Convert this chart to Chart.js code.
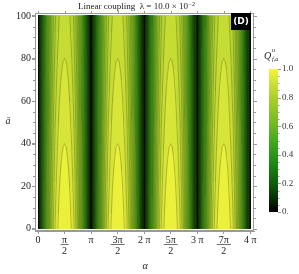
<!DOCTYPE html>
<html>
<head>
<meta charset="utf-8">
<script src="https://cdn.jsdelivr.net/npm/chart.js@4"></script>
<style>
  body { margin: 0; background: #fff; }
  canvas { display: block; }
</style>
</head>
<body>
<canvas id="grafico" width="299" height="274"></canvas>
<script>
const PI = Math.PI;

// === DADOS ===
const alphaTicks = [0, PI / 2, PI, 3 * PI / 2, 2 * PI, 5 * PI / 2, 3 * PI, 7 * PI / 2, 4 * PI];
const alphaLabels = [['0'], ['π', '2'], ['π'], ['3π', '2'], ['2 π'], ['5π', '2'], ['3 π'], ['7π', '2'], ['4 π']];
const abarTicks = [0, 20, 40, 60, 80, 100];
const barTicks = [0, 0.2, 0.4, 0.6, 0.8, 1.0];
const barLabels = ['0.', '0.2', '0.4', '0.6', '0.8', '1.0'];

// Q across half a period (alpha 0 -> pi/2), 24 columns
const halfProfile = [0.02, 0.07, 0.13, 0.20, 0.28, 0.36, 0.44, 0.51, 0.58, 0.64, 0.70, 0.75,
  0.80, 0.84, 0.875, 0.905, 0.925, 0.945, 0.96, 0.975, 0.985, 0.992, 0.997, 1.0];
// peak value of Q versus a-bar, rows of 2.5 from 0 to 100
const rowScale = [0.998, 0.995, 0.992, 0.989, 0.986, 0.983, 0.980, 0.977, 0.973, 0.970,
  0.967, 0.964, 0.961, 0.958, 0.955, 0.952, 0.948, 0.945, 0.942, 0.939,
  0.936, 0.933, 0.930, 0.927, 0.923, 0.920, 0.917, 0.914, 0.911, 0.908,
  0.905, 0.902, 0.898, 0.895, 0.892, 0.889, 0.886, 0.883, 0.880, 0.877];
const periods = 4;
const levelStep = 0.05;

// === CORES ===
const stops = [
  [0.00, 0, 0, 0], [0.10, 6, 50, 6], [0.20, 14, 92, 12], [0.35, 30, 140, 20],
  [0.50, 70, 170, 30], [0.65, 126, 190, 38], [0.80, 170, 208, 46],
  [0.90, 205, 224, 54], [1.00, 245, 245, 60]
];
function colorAt(v) {
  v = Math.max(0, Math.min(1, v));
  for (let k = 1; k < stops.length; k++) {
    if (v <= stops[k][0]) {
      const a = stops[k - 1], b = stops[k];
      const t = (v - a[0]) / (b[0] - a[0]);
      const c = [1, 2, 3].map(n => Math.round(a[n] + (b[n] - a[n]) * t));
      return `rgb(${c[0]},${c[1]},${c[2]})`;
    }
  }
  return 'rgb(245,245,60)';
}

const serif = '"Liberation Serif", "DejaVu Serif", serif';

// === MAPA ===
const nHalf = halfProfile.length;
const colW = PI / (2 * nHalf);
const rowH = 100 / rowScale.length;

function crossAt(t) {
  let prevPos = 0, prevVal = 0;
  for (let i = 0; i < nHalf; i++) {
    const pos = (i + 0.5) * colW, val = halfProfile[i];
    if (val >= t) return prevPos + (pos - prevPos) * (t - prevVal) / (val - prevVal);
    prevPos = pos; prevVal = val;
  }
  return null;
}

const mapaPlugin = {
  id: 'mapa',
  beforeDatasetsDraw(chart) {
    const { ctx, chartArea, scales: { x, y } } = chart;
    ctx.save();
    ctx.beginPath();
    ctx.rect(chartArea.left, chartArea.top, chartArea.width, chartArea.height);
    ctx.clip();
    for (let p = 0; p < periods; p++) {
      for (let side = 0; side < 2; side++) {
        for (let i = 0; i < nHalf; i++) {
          const a0 = side === 0 ? p * PI + i * colW : p * PI + PI - (i + 1) * colW;
          const x0 = Math.floor(x.getPixelForValue(a0));
          const x1 = Math.ceil(x.getPixelForValue(a0 + colW));
          for (let j = 0; j < rowScale.length; j++) {
            const y0 = Math.floor(y.getPixelForValue((j + 1) * rowH));
            const y1 = Math.ceil(y.getPixelForValue(j * rowH));
            const v = halfProfile[i] * rowScale[j];
            const band = Math.min(Math.floor(v / levelStep + 1e-9), Math.round(1 / levelStep) - 1);
            ctx.fillStyle = colorAt((band + 0.5) * levelStep);
            ctx.fillRect(x0, y0, x1 - x0, y1 - y0);
          }
        }
      }
    }

    // contornos
    const rows = [[0, rowScale[0]]];
    rowScale.forEach((g, j) => rows.push([(j + 0.5) * rowH, g]));
    rows.push([100, rowScale[rowScale.length - 1]]);
    ctx.strokeStyle = 'rgba(60,60,10,0.45)';
    ctx.lineWidth = 0.7;
    for (let k = 1; k < Math.round(1 / levelStep); k++) {
      const c = k * levelStep;
      for (let p = 0; p < periods; p++) {
        const arm = [];
        let apex = null;
        for (let r = 0; r < rows.length; r++) {
          const d = crossAt(c / rows[r][1]);
          if (d === null) { apex = (rows[r][0] + rows[r - 1][0]) / 2; break; }
          arm.push([d, rows[r][0]]);
        }
        const left = arm.map(q => [p * PI + q[0], q[1]]);
        const right = arm.map(q => [p * PI + PI - q[0], q[1]]).reverse();
        const paths = apex !== null ? [left.concat([[p * PI + PI / 2, apex]], right)] : [left, right];
        paths.forEach(pts => {
          if (pts.length < 2) return;
          ctx.beginPath();
          pts.forEach((q, n) => {
            const px = x.getPixelForValue(q[0]), py = y.getPixelForValue(q[1]);
            n ? ctx.lineTo(px, py) : ctx.moveTo(px, py);
          });
          ctx.stroke();
        });
      }
    }
    ctx.restore();
  },
  afterDraw(chart) {
    const { ctx, chartArea: ca, scales: { x, y } } = chart;
    ctx.save();
    // moldura
    ctx.strokeStyle = '#999';
    ctx.lineWidth = 1;
    ctx.strokeRect(ca.left + 0.5, ca.top + 0.5, ca.width - 1, ca.height - 1);
    // ticks menores
    ctx.beginPath();
    for (let v = 0; v <= 100; v += 5) {
      const py = Math.round(y.getPixelForValue(v)) + 0.5;
      const len = v % 20 === 0 ? 3 : 2;
      ctx.moveTo(ca.left - len, py); ctx.lineTo(ca.left, py);
      ctx.moveTo(ca.right, py); ctx.lineTo(ca.right + len, py);
    }
    alphaTicks.forEach(v => {
      const px = Math.round(x.getPixelForValue(v)) + 0.5;
      ctx.moveTo(px, ca.top); ctx.lineTo(px, ca.top - 2);
    });
    ctx.stroke();

    // barras das fracoes
    ctx.strokeStyle = '#333';
    ctx.lineWidth = 0.7;
    alphaLabels.forEach((lab, i) => {
      if (lab.length < 2) return;
      const px = x.getPixelForValue(alphaTicks[i]);
      const w = lab[0].length > 1 ? 7 : 4;
      ctx.beginPath();
      ctx.moveTo(px - w, ca.bottom + 13.5); ctx.lineTo(px + w, ca.bottom + 13.5);
      ctx.stroke();
    });

    // titulo
    ctx.fillStyle = '#222';
    ctx.textBaseline = 'alphabetic';
    ctx.textAlign = 'left';
    ctx.font = `9px ${serif}`;
    const t1 = 'Linear coupling  λ = 10.0 × 10';
    ctx.fillText(t1, 78, 9);
    const w1 = ctx.measureText(t1).width;
    ctx.font = `6px ${serif}`;
    ctx.fillText('−2', 78 + w1 + 0.5, 5.5);

    // rotulos dos eixos
    ctx.textAlign = 'center';
    ctx.textBaseline = 'middle';
    ctx.font = `italic 10px ${serif}`;
    ctx.fillText('α', 145, 266);
    ctx.fillText('ā', 8, 121);

    // caixa (D)
    ctx.fillStyle = '#000';
    ctx.fillRect(231, ca.top, 20, 17);
    ctx.fillStyle = '#fff';
    ctx.font = 'bold 9px "DejaVu Sans", sans-serif';
    ctx.fillText('(D)', 241, ca.top + 9);

    // barra de cores
    const bx = 269, bw = 9, bTop = 69, bBot = 212;
    const grad = ctx.createLinearGradient(0, bBot, 0, bTop);
    stops.forEach(s => grad.addColorStop(s[0], `rgb(${s[1]},${s[2]},${s[3]})`));
    ctx.fillStyle = grad;
    ctx.fillRect(bx, bTop, bw, bBot - bTop);
    ctx.strokeStyle = '#999';
    ctx.lineWidth = 1;
    ctx.beginPath();
    for (let v = 0; v <= 1.0001; v += 0.05) {
      const py = Math.round(bBot - v * (bBot - bTop)) + 0.5;
      const major = Math.abs(v * 5 - Math.round(v * 5)) < 1e-6;
      ctx.moveTo(bx + bw, py); ctx.lineTo(bx + bw + (major ? 3 : 1.5), py);
    }
    ctx.stroke();
    ctx.fillStyle = '#333';
    ctx.textAlign = 'left';
    ctx.font = `9px ${serif}`;
    barTicks.forEach((v, i) => {
      ctx.fillText(barLabels[i], bx + bw + 4, bBot - v * (bBot - bTop));
    });
    ctx.fillStyle = '#222';
    ctx.font = `italic 10px ${serif}`;
    ctx.fillText('Q', 264, 56);
    ctx.font = `italic 6px ${serif}`;
    ctx.fillText('u', 272, 50);
    ctx.fillText('f,a', 272, 59);
    ctx.restore();
  }
};

// === GRAFICO ===
const ctx = document.getElementById('grafico').getContext('2d');
const grafico = new Chart(ctx, {
  type: 'scatter',
  data: { datasets: [] },
  options: {
    responsive: false,
    animation: false,
    devicePixelRatio: 1,
    layout: { padding: { top: 13, right: 45, left: 0, bottom: 0 } },
    plugins: { legend: { display: false }, tooltip: { enabled: false } },
    scales: {
      x: {
        type: 'linear',
        min: -0.18,
        max: 4 * PI + 0.22,
        afterBuildTicks: s => { s.ticks = alphaTicks.map(v => ({ value: v })); },
        afterFit: s => { s.height = 43; },
        ticks: {
          callback: (v, i) => alphaLabels[i],
          font: { family: serif, size: 10, lineHeight: 1.1 },
          color: '#222',
          maxRotation: 0,
          autoSkip: false,
          padding: 1
        },
        grid: { drawOnChartArea: false, tickLength: 3, color: '#999' },
        border: { color: '#999' }
      },
      y: {
        type: 'linear',
        min: -1,
        max: 101.4,
        afterBuildTicks: s => { s.ticks = abarTicks.map(v => ({ value: v })); },
        afterFit: s => { s.width = 35; },
        ticks: {
          font: { family: serif, size: 10 },
          color: '#222',
          padding: 1
        },
        grid: { drawOnChartArea: false, tickLength: 3, color: '#999' },
        border: { color: '#999' }
      }
    }
  },
  plugins: [mapaPlugin]
});
</script>
</body>
</html>
